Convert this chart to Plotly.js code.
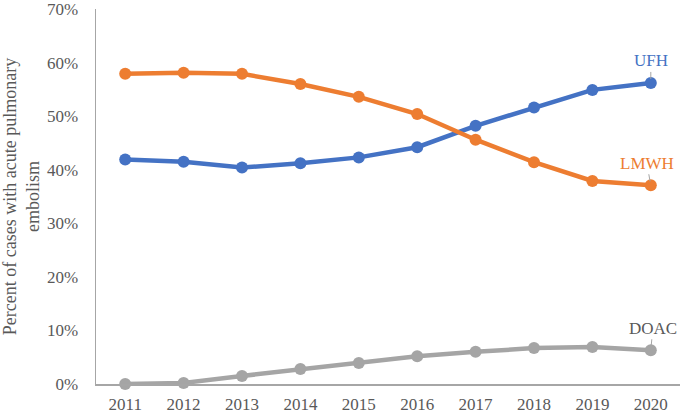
<!DOCTYPE html>
<html>
<head>
<meta charset="utf-8">
<script src="https://cdn.plot.ly/plotly-3.0.1.min.js"></script>
<style>
  html, body { margin: 0; padding: 0; background: #fff; }
  #chart { width: 680px; height: 413px; }
</style>
</head>
<body>
<div id="chart"></div>
<script>
var years = [2011, 2012, 2013, 2014, 2015, 2016, 2017, 2018, 2019, 2020];
var ufh  = [41.9, 41.5, 40.4, 41.2, 42.3, 44.2, 48.2, 51.6, 54.9, 56.2];
var lmwh = [57.9, 58.1, 57.9, 56.0, 53.6, 50.4, 45.6, 41.4, 37.9, 37.1];
var doac = [0.0, 0.2, 1.5, 2.8, 3.9, 5.2, 6.0, 6.7, 6.9, 6.3];

var seriesNames = ['UFH', 'LMWH', 'DOAC'];
var seriesColors = ['#4472C4', '#ED7D31', '#A5A5A5'];
var labelColors = ['#4472C4', '#ED7D31', '#595959'];
var seriesValues = [ufh, lmwh, doac];

var serif = "'Liberation Serif', serif";

var data = [];
var annotations = [];
for (var i = 0; i < seriesNames.length; i++) {
  data.push({
    x: years,
    y: seriesValues[i],
    name: seriesNames[i],
    type: 'scatter',
    mode: 'lines+markers',
    line: { color: seriesColors[i], width: 4.5 },
    marker: { color: seriesColors[i], size: 12 },
    cliponaxis: false,
    hoverinfo: 'x+y'
  });
  // label next to the last point, Excel style
  var last = seriesValues[i].length - 1;
  annotations.push({
    x: years[last],
    y: seriesValues[i][last],
    xref: 'x',
    yref: 'y',
    text: seriesNames[i],
    showarrow: true,
    arrowhead: 0,
    arrowwidth: 1,
    arrowcolor: '#A5A5A5',
    ax: (i == 0) ? 0 : (i == 1 ? -4 : 2),
    ay: -22,
    standoff: 4,
    font: { family: serif, size: 17, color: labelColors[i] }
  });
}

var layout = {
  width: 680,
  height: 413,
  margin: { l: 96, r: 0, t: 9, b: 29 },
  paper_bgcolor: '#fff',
  plot_bgcolor: '#fff',
  showlegend: false,
  font: { family: serif, size: 17, color: '#595959' },
  xaxis: {
    range: [2010.5, 2020.5],
    tickmode: 'array',
    tickvals: years,
    ticktext: years.map(String),
    showgrid: false,
    zeroline: false,
    showline: true,
    linecolor: '#A6A6A6',
    linewidth: 1.5,
    ticks: '',
    ticklabelstandoff: 4,
    ticklabeloverflow: 'allow',
    tickfont: { family: serif, size: 17, color: '#595959' },
    fixedrange: true
  },
  yaxis: {
    range: [0, 70],
    dtick: 10,
    ticksuffix: '%',
    showgrid: false,
    zeroline: false,
    showline: true,
    linecolor: '#A6A6A6',
    linewidth: 1.5,
    ticks: '',
    ticklabelstandoff: 13,
    ticklabeloverflow: 'allow',
    tickfont: { family: serif, size: 17, color: '#595959' },
    title: {
      text: 'Percent of cases with acute pulmonary<br>embolism',
      font: { family: serif, size: 18, color: '#595959' },
      standoff: 6
    },
    fixedrange: true
  },
  annotations: annotations
};

Plotly.newPlot('chart', data, layout, { displayModeBar: false, staticPlot: true });
</script>
</body>
</html>
